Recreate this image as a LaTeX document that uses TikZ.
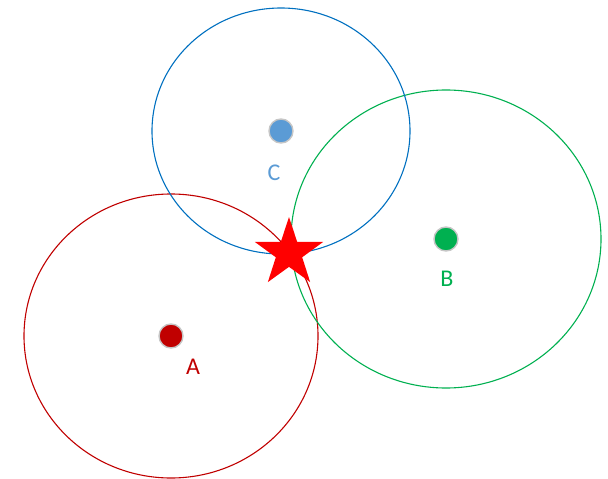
\documentclass[tikz,border=0pt]{standalone}
\usepackage{fontspec}
\setmainfont{Carlito}
\usepackage{xcolor}
\usepackage{tikz}
\usetikzlibrary{positioning, shapes.geometric}

\definecolor{aRed}{HTML}{C00000}
\definecolor{bGreen}{HTML}{00B050}
\definecolor{cBlue}{HTML}{0070C0}
\definecolor{cDot}{HTML}{5B9BD5}

\tikzset{
    anchorpt/.style={circle, fill=#1, draw=gray!45, line width=1.4pt, minimum size=24pt, inner sep=0pt},
    anchorlbl/.style={text=#1, font=\fontsize{24}{28}\selectfont, inner sep=0pt},
    range/.style={draw=#1, line width=1.1pt}
}

\begin{document}
\begin{tikzpicture}[x=1pt, y=-1pt]
        \useasboundingbox (0,0) rectangle (608,479);

        \node[anchorpt=aRed] (a) at (171,336) {};
        \node[anchorpt=bGreen] (b) at (446,239) {};
        \node[anchorpt=cDot] (c) at (281,131) {};

        \node[anchorlbl=aRed] (la) at (193,367) {A};
        \node[anchorlbl=bGreen] (lb) at (447,279) {B};
        \node[anchorlbl=cDot] (lc) at (274,173) {C};

        % ranges round each anchor
        \draw[range=aRed] (a) ellipse [x radius=147, y radius=142];
        \draw[range=bGreen] (b) ellipse [x radius=155, y radius=149];
        \draw[range=cBlue] (c) ellipse [x radius=129, y radius=123];

        \node[star, star points=5, star point ratio=2.6, fill=red, minimum size=72pt, inner sep=0pt] (pos) at (289,253) {};

\end{tikzpicture}
\end{document}
